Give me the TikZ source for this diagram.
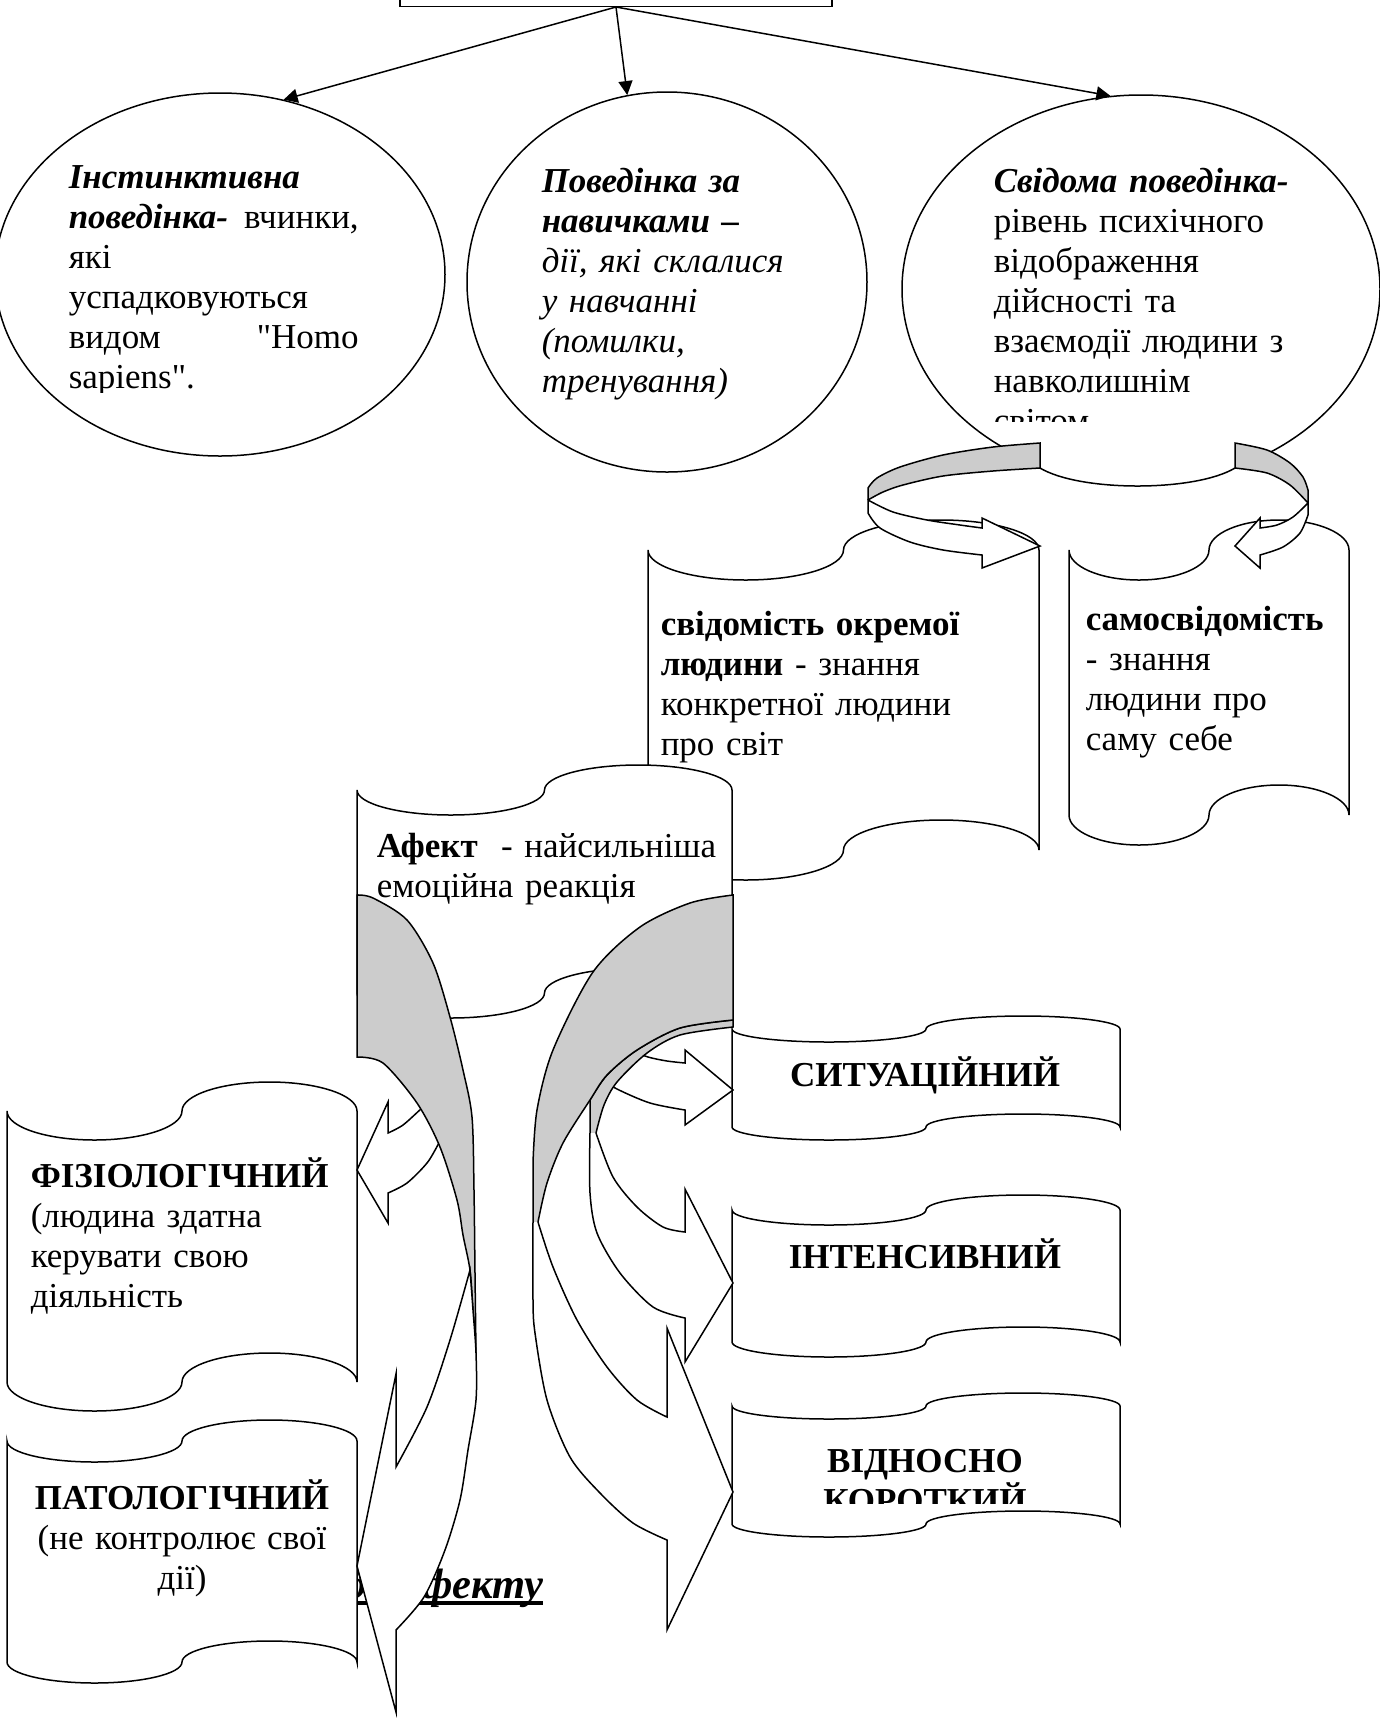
\documentclass[tikz,border=0pt]{standalone}
\usepackage{fontspec}
\newfontfamily\uafont{Liberation Serif}
\usetikzlibrary{shapes.geometric,arrows.meta}

\newcommand{\tape}[5]{%
  \pgfmathsetmacro\tq{(#3-#1)/4}%
  \filldraw[tapebox] (#1,#2+#5)
    .. controls (#1,#2+1.55*#5) and (#1+0.45*\tq,#2+2*#5) .. (#1+\tq,#2+2*#5)
    .. controls (#1+1.55*\tq,#2+2*#5) and (#1+2*\tq,#2+1.55*#5) .. (#1+2*\tq,#2+#5)
    .. controls (#1+2*\tq,#2+0.45*#5) and (#1+2.45*\tq,#2) .. (#1+3*\tq,#2)
    .. controls (#1+3.55*\tq,#2) and (#3,#2+0.45*#5) .. (#3,#2+#5)
    -- (#3,#4-#5)
    .. controls (#3,#4-1.55*#5) and (#1+3.55*\tq,#4-2*#5) .. (#1+3*\tq,#4-2*#5)
    .. controls (#1+2.45*\tq,#4-2*#5) and (#1+2*\tq,#4-1.55*#5) .. (#1+2*\tq,#4-#5)
    .. controls (#1+2*\tq,#4-0.45*#5) and (#1+1.55*\tq,#4) .. (#1+\tq,#4)
    .. controls (#1+0.45*\tq,#4) and (#1,#4-0.45*#5) .. (#1,#4-#5)
    -- cycle;}
\newcommand{\thickul}[1]{\setbox0\hbox{#1}\rlap{\rule[-2.6pt]{\wd0}{1.6pt}}\box0}

\begin{document}
\begin{tikzpicture}[
    x = 0.4pt, y = -0.4pt, line width = 0.6pt,
    oval/.style = {draw, ellipse, inner sep = 0pt},
    lbl/.style = {inner sep = 0pt, anchor = base west, align = left,
                  font = \uafont\fontsize{14}{16}\selectfont},
    head/.style = {inner sep = 0pt, anchor = base,
                   font = \uafont\fontsize{14}{16}\selectfont\bfseries},
    tapebox/.style = {draw, fill = white},
    back/.style = {draw, fill = black!20},
    front/.style = {draw, fill = white},
    link/.style = {-{Triangle[length = 5.6pt, width = 5.6pt]}}]

\fill[white] (0,0) rectangle (1380,1722);
\useasboundingbox (0,0) rectangle (1380,1722);

\node[draw, minimum width = 172.8pt, minimum height = 60pt, anchor = south] (top) at (616,7) {};
\node[oval, minimum width = 180pt, minimum height = 145.2pt] (instinct) at (220,274.5) {};
\node[oval, minimum width = 160pt, minimum height = 152pt] (habit) at (667,282) {};
\node[oval, minimum width = 191.2pt, minimum height = 155.2pt] (aware) at (1141,289) {};
\draw[link] (top.south) -- (instinct.70);
\draw[link] (top.south) -- (habit.102);
\draw[link] (top.south) -- (aware.99);

\begin{scope}
  \clip (0,0) rectangle (1380,392);
  \node[lbl, text width = 116pt] (instinctText) at (68,188)
    {\textbf{\textit{Інстинктивна}}\\
     \makebox[116pt][l]{\textbf{\textit{поведінка-}}\hfill вчинки,}\\
     які\\ успадковуються\\
     \makebox[116pt][l]{видом\hfill "Homo}\\ sapiens".};
\end{scope}
\node[lbl, text width = 110pt] (habitText) at (541,192)
  {\textbf{\textit{Поведінка за}}\\ \textbf{\textit{навичками –}}\\
   \textit{дії, які склалися}\\ \textit{у навчанні}\\
   \textit{(помилки,}\\ \textit{тренування)}};
\begin{scope}
  \clip (0,0) rectangle (1380,421);
  \node[lbl, text width = 125pt] (awareText) at (993,192)
    {\textbf{\textit{Свідома поведінка-}}\\ рівень психічного\\ відображення\\
     дійсності та\\ взаємодії людини з\\ навколишнім\\ світом.};
\end{scope}

% scrolls under the ribbon
\tape{648}{520}{1039}{880}{30}
\tape{1069}{520}{1349}{845}{30}
\node[lbl, text width = 130pt] (worldText) at (660,635)
  {\textbf{свідомість окремої}\\ \textbf{людини} - знання\\ конкретної людини\\ про світ};
\node[lbl, text width = 110pt] (selfText) at (1085,630)
  {\textbf{самосвідомість}\\ - знання\\ людини про\\ саму себе};

% ribbon below the third oval
\fill[white] (1040,440) -- (1235,440) -- (1235,468) .. controls (1195,492) and (1080,492) .. (1040,468) -- cycle;
\draw (1040,468) .. controls (1080,492) and (1195,492) .. (1235,468);
\filldraw[back] plot[smooth] coordinates {(868,500) (883,492) (903,485) (943,476) (993,471) (1040,468)}
  -- (1040,443) -- plot[smooth] coordinates {(1040,443) (993,447) (943,455) (900,467) (877,478) (868,488)} -- (868,500);
\filldraw[front] (868,500) -- (868,513) -- plot[smooth] coordinates {(868,513) (880,528) (910,542) (943,550) (982,555)}
  -- (982,568) -- (1040,546) -- (982,518) -- (982,528)
  -- plot[smooth] coordinates {(982,528) (960,525) (927,520) (893,512) (868,500)} -- cycle;
\filldraw[back] plot[smooth] coordinates {(1308,503) (1290,485) (1267,473) (1235,468)}
  -- (1235,443) -- plot[smooth] coordinates {(1235,443) (1267,450) (1290,463) (1303,477) (1308,490)} -- (1308,503);
\filldraw[front] (1308,503) -- (1308,515) -- plot[smooth] coordinates {(1308,515) (1300,533) (1283,547) (1260,555)}
  -- (1260,568) -- (1235,546) -- (1260,518) -- (1260,528)
  -- plot[smooth] coordinates {(1260,528) (1277,525) (1293,517) (1308,503)} -- cycle;

\tape{357}{765}{732}{1018}{25}
\node[lbl, text width = 140pt] (affectText) at (376,857)
  {\textbf{Афект}~~- найсильніша\\ емоційна реакція};

\node[inner sep = 0pt, anchor = base east, font = \uafont\fontsize{17}{19}\selectfont\bfseries\itshape]
  (kindsText) at (544,1598) {\thickul{Види афекту}};

\tape{7}{1082}{357}{1411}{29}
\tape{7}{1420}{357}{1683}{21}
\tape{732}{1016}{1120}{1140}{13}
\tape{732}{1195}{1120}{1357}{15}
\tape{732}{1393}{1120}{1537}{13}
\node[lbl, text width = 124pt] (physText) at (30,1187)
  {\textbf{ФІЗІОЛОГІЧНИЙ}\\ (людина здатна\\ керувати свою\\ діяльність};
\node[lbl, anchor = base, align = center, text width = 130pt] (pathText) at (182,1509)
  {\textbf{ПАТОЛОГІЧНИЙ}\\ (не контролює свої\\ дії)};
\node[head] (sitText) at (925,1086) {СИТУАЦІЙНИЙ};
\node[head] (intText) at (925,1268) {ІНТЕНСИВНИЙ};
\begin{scope}
  \clip (700,1380) rectangle (1150,1503);
  \node[head, align = center, text width = 120pt] (shortText) at (925,1472) {ВІДНОСНО\\ КОРОТКИЙ};
\end{scope}

% curved arrows on the left
\filldraw[front] plot[smooth] coordinates {(438,1094) (422,1108) (403,1125) (388,1133)}
  -- (388,1102) -- (357,1170) -- (388,1223) -- (388,1193)
  -- plot[smooth] coordinates {(388,1193) (407,1183) (427,1163) (439,1143) (452,1120)};
\filldraw[back] (357,1057) -- (357,895)
  -- plot[smooth] coordinates {(357,895) (373,898) (407,920) (433,963) (450,1017) (463,1070) (472,1117) (474,1190) (475,1273) (476,1353)}
  -- plot[smooth] coordinates {(476,1353) (473,1310) (470,1270) (463,1235) (457,1200) (440,1147) (417,1103) (383,1063) (357,1057)} -- cycle;
\filldraw[front] plot[smooth] coordinates {(470,1270) (473,1310) (476,1353) (476,1400) (468,1450) (460,1500) (445,1550) (424,1597) (396,1630)}
  -- (396,1712) -- (357,1566) -- (396,1374) -- (396,1467)
  -- plot[smooth] coordinates {(396,1467) (427,1407) (450,1340) (470,1270)} -- cycle;

% curved arrows on the right
\filldraw[front] plot[smooth] coordinates {(630,1050) (648,1057) (667,1061) (685,1063)}
  -- (685,1050) -- (733,1090) -- (685,1125) -- (685,1110)
  -- plot[smooth] coordinates {(685,1110) (650,1103) (617,1089) (600,1078)};
\filldraw[back] plot[smooth] coordinates {(596,1133) (604,1105) (617,1082) (647,1053) (680,1035) (733,1027)}
  -- (733,1020) -- plot[smooth] coordinates {(733,1020) (680,1028) (637,1050) (607,1075) (590,1100)} -- (590,1133);
\filldraw[front] plot[smooth] coordinates {(590,1133) (590,1193) (597,1233) (620,1273) (653,1307) (685,1318)}
  -- (685,1362) -- (733,1283) -- (685,1189) -- (685,1232)
  -- plot[smooth] coordinates {(685,1232) (663,1227) (637,1207) (613,1177) (596,1133)};
\filldraw[back] plot[smooth] coordinates {(538,1222) (547,1183) (563,1143) (590,1100) (607,1075) (637,1050) (680,1028) (733,1020)}
  -- (733,895) -- plot[smooth] coordinates {(733,895) (690,903) (640,927) (593,972) (553,1050) (537,1110) (533,1163)} -- (533,1222);
\filldraw[front] plot[smooth] coordinates {(533,1222) (533,1300) (535,1333) (547,1400) (570,1457) (600,1493) (633,1523) (667,1540)}
  -- (667,1630) -- (733,1492) -- (667,1328) -- (667,1417)
  -- plot[smooth] coordinates {(667,1417) (637,1400) (607,1367) (577,1320) (553,1267) (538,1222)};
\end{tikzpicture}
\end{document}
